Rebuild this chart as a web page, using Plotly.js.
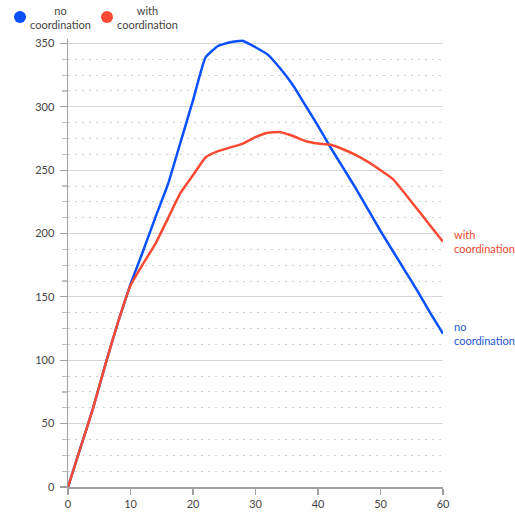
<!DOCTYPE html>
<html>
<head>
<meta charset="utf-8">
<script src="https://cdn.plot.ly/plotly-3.0.1.min.js"></script>
<style>html,body{margin:0;padding:0;background:#fff}#chart{width:515px;height:512px}</style>
</head>
<body>
<div id="chart"></div>
<script>
const xValues = [0,2,4,6,8,10,12,14,16,18,20,22,24,26,28,30,32,34,36,38,40,42,44,46,48,50,52,54,56,58,60];
const noCoordination = [0,31,62,97,130,160,186,213,239,272,305,339,348,351,352,347,341,330,317,301,285,268,252,236,219,202,186,170,154,137,121];
const withCoordination = [0,31,62,97,130,159,176,192,212,232,246,260,265,268,271,276,279.5,280,277,273,271,270,266.5,262,256.5,250,243,231,218.5,206,193.5];
const seriesNames = ["no<br>coordination", "with<br>coordination"];
const xTicks = [0,10,20,30,40,50,60];
const yTicks = [0,50,100,150,200,250,300,350];

const BLUE = "#0a50ff", RED = "#fb4a33";
const FONT = "Lato, 'Noto Sans', sans-serif";

const traces = [
  {x: xValues, y: noCoordination, mode: "lines", line: {color: BLUE, width: 2.5, shape: "spline", smoothing: 0.4}, showlegend: false, hoverinfo: "skip"},
  {x: xValues, y: withCoordination, mode: "lines", line: {color: RED, width: 2.5, shape: "spline", smoothing: 0.4}, showlegend: false, hoverinfo: "skip"}
];

const lastX = xValues[xValues.length - 1];
const layout = {
  width: 515, height: 512,
  margin: {l: 68, r: 72, t: 39, b: 25},
  paper_bgcolor: "#fff", plot_bgcolor: "#fff",
  font: {family: FONT, size: 11, color: "#444"},
  showlegend: false,
  xaxis: {
    range: [0, 60], tickvals: xTicks, ticktext: xTicks.map(String),
    showgrid: false, zeroline: false, showline: true, linecolor: "#a0a0a0", linewidth: 1.5,
    ticks: "outside", ticklen: 6, tickcolor: "#a0a0a0", tickwidth: 1.5,
    tickfont: {family: FONT, size: 11, color: "#444"}
  },
  yaxis: {
    range: [0, 353.5], tickvals: yTicks, ticktext: yTicks.map(String),
    showgrid: true, gridcolor: "#d6d6d6", gridwidth: 1.2,
    zeroline: false, showline: true, linecolor: "#a0a0a0", linewidth: 1.5,
    ticks: "outside", ticklen: 7, tickcolor: "#a0a0a0", tickwidth: 1.2,
    ticklabelstandoff: 3,
    tickfont: {family: FONT, size: 11, color: "#444"},
    minor: {dtick: 12.5, showgrid: true, gridcolor: "#d0d0d0", gridwidth: 1, griddash: "2px,5px", ticks: "outside", ticklen: 5, tickcolor: "#c0c0c0"}
  },
  shapes: [
    {type: "circle", xref: "paper", yref: "paper", xsizemode: "pixel", ysizemode: "pixel", xanchor: -0.128, yanchor: 1.049, x0: -6, x1: 6, y0: -6, y1: 6, fillcolor: BLUE, line: {width: 0}},
    {type: "circle", xref: "paper", yref: "paper", xsizemode: "pixel", ysizemode: "pixel", xanchor: 0.104, yanchor: 1.049, x0: -6, x1: 6, y0: -6, y1: 6, fillcolor: RED, line: {width: 0}}
  ],
  annotations: [
    {xref: "paper", yref: "paper", x: -0.0187, y: 1.049, xanchor: "center", yanchor: "middle", align: "center", showarrow: false, text: seriesNames[0], font: {family: FONT, size: 11, color: "#444"}},
    {xref: "paper", yref: "paper", x: 0.2133, y: 1.049, xanchor: "center", yanchor: "middle", align: "center", showarrow: false, text: seriesNames[1], font: {family: FONT, size: 11, color: "#444"}},
    {x: lastX, y: withCoordination[withCoordination.length - 1], xanchor: "left", yanchor: "middle", align: "left", xshift: 9, showarrow: false, text: seriesNames[1], font: {family: FONT, size: 11, color: "#e8472f"}},
    {x: lastX, y: noCoordination[noCoordination.length - 1], xanchor: "left", yanchor: "middle", align: "left", xshift: 9, showarrow: false, text: seriesNames[0], font: {family: FONT, size: 11, color: "#2456d6"}}
  ]
};

Plotly.newPlot("chart", traces, layout, {staticPlot: true, displayModeBar: false});
</script>
</body>
</html>
